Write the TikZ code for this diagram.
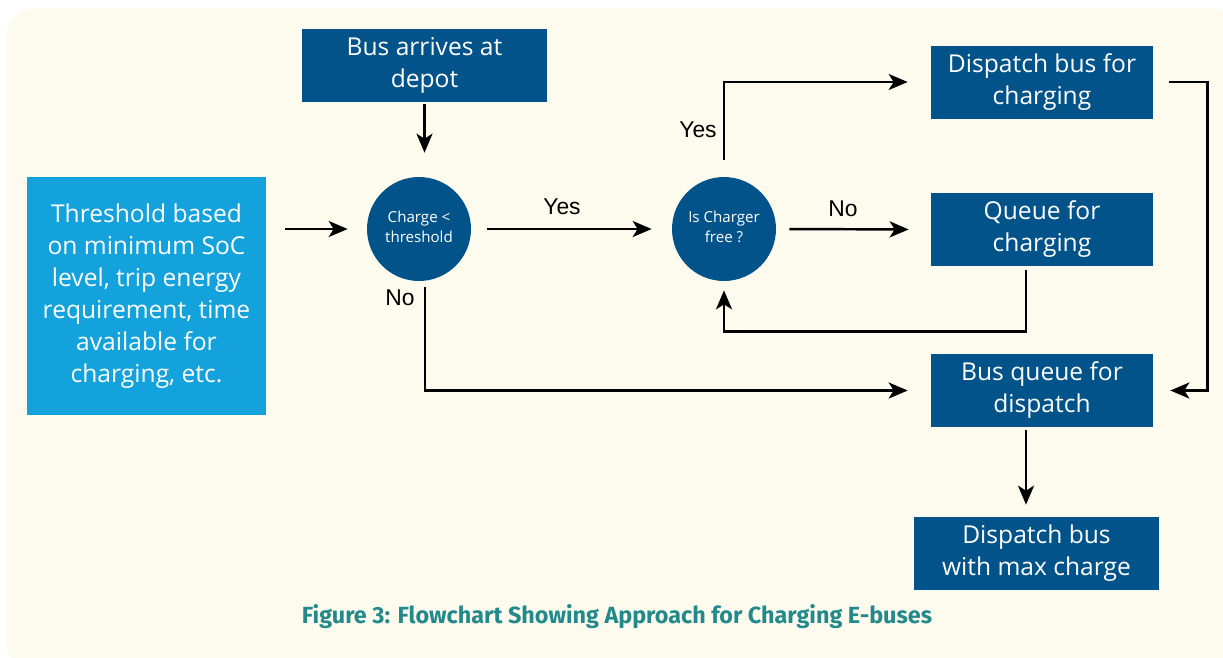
\documentclass[tikz,border=0pt]{standalone}
\usepackage{fontspec}
\setmainfont{Open Sans}
\newfontfamily\labelfont{Liberation Sans}
\newfontfamily\capfont{Fira Sans}
\usetikzlibrary{arrows.meta}
\definecolor{fond}{HTML}{FDFBEE}
\definecolor{bleu}{HTML}{02538A}
\definecolor{ciel}{HTML}{13A2DC}
\definecolor{sarcelle}{HTML}{23898A}
\tikzstyle{boite}=[minimum width=4.44cm,minimum height=1.46cm,
rectangle,fill=bleu,text=white,inner sep=0pt,
font=\fontsize{14pt}{18.2pt}\selectfont,align=center]
\tikzstyle{rond}=[circle,minimum size=2.08cm,inner sep=0pt,
fill=bleu,text=white,font=\fontsize{8.6pt}{11.4pt}\selectfont,align=center]
\tikzstyle{fleche}=[line width=1.4pt,-{Stealth[length=0.38cm,width=0.32cm,inset=0.1cm]}]
\tikzstyle{etiq}=[font=\labelfont\fontsize{13pt}{15pt}\selectfont,inner sep=0pt]
\begin{document}
\begin{tikzpicture}[x=0.02cm,y=-0.02cm]
      \useasboundingbox (0,0) rectangle (1223,657);
      \begin{scope}
      \clip (0,0) rectangle (1223,657);
      \fill[fond,rounded corners=0.6cm] (6,8) rectangle (1240,672);
      \end{scope}
      \node[boite,fill=ciel,minimum width=4.78cm,minimum height=4.76cm] (seuil) at (146.5,296)
        {Threshold based\\on minimum SoC\\level, trip energy\\requirement, time\\available for\\charging, etc.};
      \node[boite,minimum width=4.9cm] (arrivee) at (424.5,65.5) {Bus arrives at\\depot};
      \node[rond] (charge) at (419,229) {\raisebox{0.1cm}{\shortstack{Charge <\\threshold}}};
      \node[rond] (libre) at (724,229) {\raisebox{0.1cm}{\shortstack{Is Charger\\free ?}}};
      \node[boite] (envoi) at (1042,82) {Dispatch bus for\\charging};
      \node[boite] (attente) at (1042,229.5) {Queue for\\charging};
      \node[boite] (file) at (1042,390.5) {Bus queue for\\dispatch};
      \node[boite,minimum width=4.9cm] (depart) at (1036.5,553.5) {Dispatch bus\\with max charge};

      \draw[fleche,shorten <=0.38cm,shorten >=0.38cm] (seuil.east |- charge.west) -- (charge.west);
      \draw[fleche,shorten <=1pt,shorten >=0.48cm] (arrivee.south) -- (arrivee.south |- charge.north);
      \draw[fleche,shorten <=0.32cm,shorten >=0.4cm] (charge.east) -- (libre.west);
      \node[etiq] (oui1) at (562,207) {Yes};
      \draw[fleche,shorten <=0.26cm,shorten >=0.44cm] (libre.east) -- (attente.west);
      \node[etiq] (non2) at (843,209) {No};
      \draw[fleche,shorten <=0.34cm,shorten >=0.46cm] (libre.north) |- (envoi.west);
      \node[etiq] (oui2) at (698,130) {Yes};
      \draw[fleche,shorten <=0.08cm,shorten >=0.18cm] ([xshift=-0.32cm]attente.south) -- ++(0,65) -| (libre.south);
      \draw[fleche,shorten <=0.12cm,shorten >=0.46cm] ([xshift=0.12cm]charge.south) |- (file.west);
      \node[etiq] (non1) at (400,298) {No};
      \draw[fleche,shorten <=0.32cm,shorten >=0.34cm] (envoi.east) -- ++(54,0) |- (file.east);
      \draw[fleche,shorten <=0.06cm,shorten >=0.24cm] ([xshift=-0.32cm]file.south) -- ([xshift=-0.32cm]file.south |- depart.north);

      \node[text=sarcelle,font=\capfont\bfseries\fontsize{13.3pt}{16pt}\selectfont] (legende) at (617,617)
        {Figure 3: Flowchart Showing Approach for Charging E-buses};
\end{tikzpicture}
\end{document}
